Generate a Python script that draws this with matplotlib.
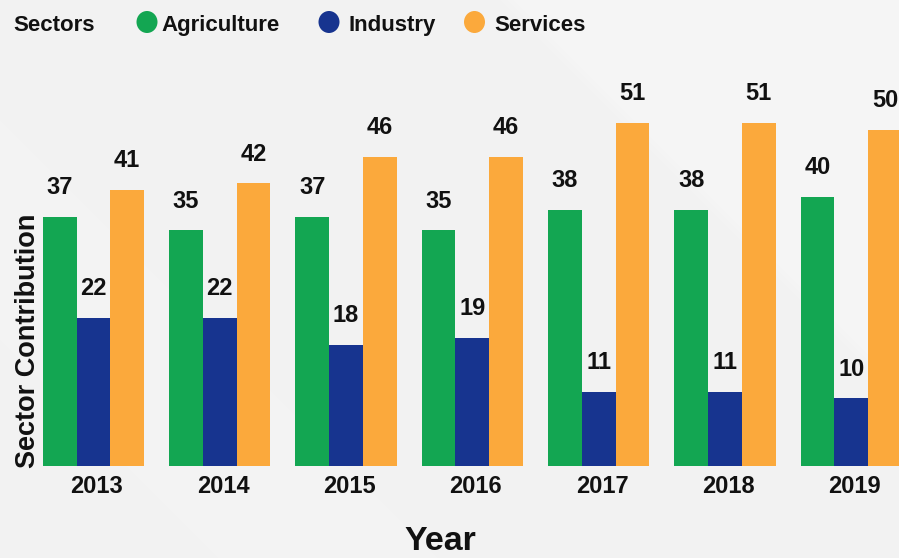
import numpy as np
import matplotlib
matplotlib.use("Agg")
import matplotlib.pyplot as plt
from matplotlib.patches import Polygon, Ellipse

plt.rcParams['font.family'] = ['Liberation Sans', 'DejaVu Sans']
plt.rcParams['font.weight'] = 'bold'

# ---- data ----
years = ['2013', '2014', '2015', '2016', '2017', '2018', '2019']
agriculture = [37, 35, 37, 35, 38, 38, 40]
industry = [22, 22, 18, 19, 11, 11, 10]
services = [41, 42, 46, 46, 51, 51, 50]
series_names = ['Agriculture', 'Industry', 'Services']
colors = ['#13a652', '#17348f', '#fba93c']

W, H = 899, 558
fig = plt.figure(figsize=(W / 100, H / 100), dpi=100)
fig.patch.set_facecolor('#f2f2f2')


def px(x, y):
    return (x / W, 1 - y / H)


# background soft diagonal light streaks
def band(c1, c2, alpha):
    pts = [px(c1 - 20, -20), px(c2 - 20, -20), px(c2 + 600, 600), px(c1 + 600, 600)]
    fig.add_artist(Polygon(pts, closed=True, transform=fig.transFigure,
                           facecolor='white', edgecolor='none', alpha=alpha, zorder=-10))


def soft_band(c1, c2, alpha, steps=6, fade=40):
    for i in range(steps):
        d = fade * i / steps
        band(c1 + d, c2 - d, alpha / steps)


for c1, c2, a in [(-340, -120, 0.5), (-270, -170, 0.4), (190, 450, 0.45),
                  (250, 410, 0.35), (500, 1100, 0.6), (620, 1100, 0.4),
                  (-80, 80, 0.25)]:
    soft_band(c1, c2, a)

base_y = 465.7
ax = fig.add_axes([0, 1 - base_y / H, 1, base_y / H])
ax.set_facecolor('none')
for s in ax.spines.values():
    s.set_visible(False)

x = np.arange(len(years))
w = 0.267
for off, vals, col in zip([-w, 0, w], [agriculture, industry, services], colors):
    bars = ax.bar(x + off, vals, w, color=col, linewidth=0)
    for b, v in zip(bars, vals):
        ax.annotate(str(v), (b.get_x() + b.get_width() / 2, v), xytext=(0, 16.5),
                    textcoords='offset points', ha='center', va='baseline',
                    fontsize=17, fontweight='bold', color='#111111')

ax.set_xlim(-0.740, 6.378)
ax.set_ylim(0, base_y / 6.72)
ax.set_yticks([])
ax.set_xticks(x + 0.028)
ax.set_xticklabels(years)
ax.tick_params(axis='x', length=0, pad=7, labelsize=17, labelcolor='#111111')
for t in ax.get_xticklabels():
    t.set_fontweight('bold')

# axis titles
fig.text(*px(440, 550), 'Year', ha='center', va='baseline', fontsize=24.5,
         fontweight='bold', color='#111111')
fig.text(*px(35, 341), 'Sector Contribution', rotation=90, rotation_mode='anchor',
         ha='center', va='baseline', fontsize=19.5, fontweight='bold', color='#111111')

# legend
fig.text(*px(13.5, 31), 'Sectors', ha='left', va='baseline', fontsize=16,
         fontweight='bold', color='#111111')
circ_x = [147, 329, 474.5]
text_x = [161, 348, 494]
for cx, tx, name, col in zip(circ_x, text_x, series_names, colors):
    fig.add_artist(Ellipse(px(cx, 22), 21 / W, 22 / H, transform=fig.transFigure,
                           facecolor=col, edgecolor='none'))
    fig.text(*px(tx, 31), name, ha='left', va='baseline', fontsize=16,
             fontweight='bold', color='#111111')

fig.savefig('out.png', dpi=100, facecolor=fig.get_facecolor())
